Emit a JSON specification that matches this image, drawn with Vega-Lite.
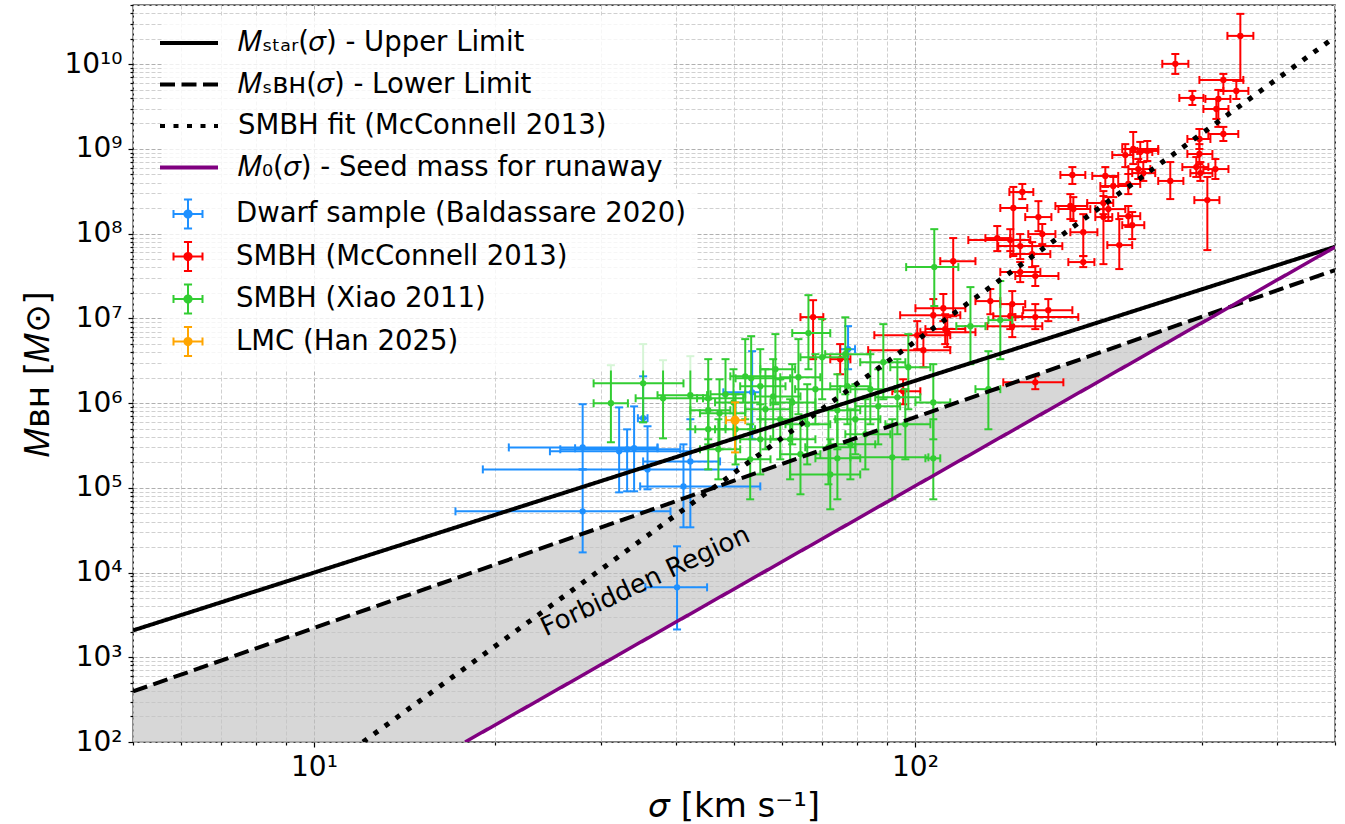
{
"$schema":"https://vega.github.io/schema/vega-lite/v6.json",
"width":1202,"height":737,
"autosize":{"type":"none"},
"padding":{"left":133,"top":5,"right":10,"bottom":82},
"background":"white",
"config":{"font":"DejaVu Sans","view":{"stroke":"black","strokeWidth":1.3}},
"datasets":{
"lines":[
{"series":"𝑀ₛₜₐᵣ(𝜎) - Upper Limit","s":5,"m":2075},
{"series":"𝑀ₛₜₐᵣ(𝜎) - Upper Limit","s":500,"m":7.0e7},
{"series":"𝑀ₛʙʜ(𝜎) - Lower Limit","s":5,"m":395},
{"series":"𝑀ₛʙʜ(𝜎) - Lower Limit","s":500,"m":3.72e7},
{"series":"SMBH fit (McConnell 2013)","s":12.07,"m":100},
{"series":"SMBH fit (McConnell 2013)","s":500,"m":2.1e10},
{"series":"𝑀₀(𝜎) - Seed mass for runaway","s":17.85,"m":100},
{"series":"𝑀₀(𝜎) - Seed mass for runaway","s":500,"m":6.95e7}
],
"region":[
{"s":5,"lo":100,"hi":395},
{"s":17.85,"lo":100,"hi":9354},
{"s":334.4,"lo":1.37e7,"hi":1.37e7}
],
"obs":[
{"series":"Dwarf sample (Baldassare 2020)","s":28.0,"sl":21.1,"sh":37.3,"m":3.0e5,"ml":1.65e5,"mh":9.7e5},
{"series":"Dwarf sample (Baldassare 2020)","s":28.0,"sl":17.2,"sh":39.2,"m":5.28e4,"ml":1.73e4,"mh":1.65e5},
{"series":"Dwarf sample (Baldassare 2020)","s":32.2,"sl":24.7,"sh":42.3,"m":2.70e5,"ml":8.84e4,"mh":8.9e5},
{"series":"Dwarf sample (Baldassare 2020)","s":33.2,"sl":25.7,"sh":40.7,"m":2.85e5,"ml":9.1e4,"mh":4.9e5},
{"series":"Dwarf sample (Baldassare 2020)","s":34.1,"sl":27.2,"sh":37.3,"m":2.93e5,"ml":9.1e4,"mh":9.15e5},
{"series":"Dwarf sample (Baldassare 2020)","s":35.3,"sl":34.6,"sh":35.9,"m":6.63e5,"ml":5.95e5,"mh":2.07e6},
{"series":"Dwarf sample (Baldassare 2020)","s":35.9,"sl":19.1,"sh":50.6,"m":1.65e5,"ml":9.6e4,"mh":5.33e5},
{"series":"Dwarf sample (Baldassare 2020)","s":42.3,"sl":35.3,"sh":47.4,"m":2.05e5,"ml":3.42e4,"mh":6.45e5},
{"series":"Dwarf sample (Baldassare 2020)","s":41.2,"sl":34.9,"sh":55.3,"m":1.04e5,"ml":3.42e4,"mh":3.26e5},
{"series":"Dwarf sample (Baldassare 2020)","s":40.2,"sl":35.6,"sh":45.1,"m":6.69e3,"ml":2.13e3,"mh":2.04e4},
{"series":"Dwarf sample (Baldassare 2020)","s":53.6,"sl":48.0,"sh":55.3,"m":1.34e6,"ml":3.74e5,"mh":4.1e6},
{"series":"Dwarf sample (Baldassare 2020)","s":77.4,"sl":75.1,"sh":79.5,"m":4.33e6,"ml":2.51e6,"mh":8.1e6},
{"series":"SMBH (McConnell 2013)","s":67.7,"sl":64.5,"sh":70.4,"m":1.035e7,"ml":3.30e6,"mh":1.64e7},
{"series":"SMBH (McConnell 2013)","s":75.1,"sl":72.3,"sh":78.1,"m":3.30e6,"ml":2.19e6,"mh":4.97e6},
{"series":"SMBH (McConnell 2013)","s":95.6,"sl":91.7,"sh":102.1,"m":1.38e6,"ml":9.69e5,"mh":1.91e6},
{"series":"SMBH (McConnell 2013)","s":103.3,"sl":83.6,"sh":114.5,"m":4.22e6,"ml":2.65e6,"mh":6.52e6},
{"series":"SMBH (McConnell 2013)","s":100.9,"sl":85.6,"sh":114.5,"m":6.34e6,"ml":4.33e6,"mh":9.28e6},
{"series":"SMBH (McConnell 2013)","s":107.3,"sl":94.5,"sh":119.0,"m":1.09e7,"ml":7.47e6,"mh":1.69e7},
{"series":"SMBH (McConnell 2013)","s":111.5,"sl":100.2,"sh":121.3,"m":1.32e7,"ml":9.28e6,"mh":1.94e7},
{"series":"SMBH (McConnell 2013)","s":113.2,"sl":102.1,"sh":126.1,"m":6.88e6,"ml":4.58e6,"mh":1.035e7},
{"series":"SMBH (McConnell 2013)","s":115.8,"sl":110.2,"sh":126.1,"m":4.74e7,"ml":1.06e7,"mh":8.87e7},
{"series":"SMBH (McConnell 2013)","s":112.3,"sl":104.1,"sh":121.3,"m":7.47e6,"ml":4.97e6,"mh":1.12e7},
{"series":"SMBH (McConnell 2013)","s":133.5,"sl":126.1,"sh":138.7,"m":1.60e7,"ml":1.12e7,"mh":2.22e7},
{"series":"SMBH (McConnell 2013)","s":145.2,"sl":138.7,"sh":152.6,"m":1.475e7,"ml":1.035e7,"mh":2.10e7},
{"series":"SMBH (McConnell 2013)","s":144.1,"sl":135.0,"sh":150.9,"m":1.06e7,"ml":7.47e6,"mh":1.475e7},
{"series":"SMBH (McConnell 2013)","s":158.6,"sl":146.9,"sh":187.0,"m":1.035e7,"ml":7.47e6,"mh":1.475e7},
{"series":"SMBH (McConnell 2013)","s":166.7,"sl":151.4,"sh":182.8,"m":1.25e7,"ml":9.28e6,"mh":1.69e7},
{"series":"SMBH (McConnell 2013)","s":145.2,"sl":132.0,"sh":162.9,"m":8.10e6,"ml":6.01e6,"mh":1.12e7},
{"series":"SMBH (McConnell 2013)","s":150.9,"sl":143.6,"sh":157.4,"m":3.10e8,"ml":2.56e8,"mh":3.86e8},
{"series":"SMBH (McConnell 2013)","s":145.8,"sl":138.7,"sh":153.8,"m":2.01e8,"ml":5.44e7,"mh":3.56e8},
{"series":"SMBH (McConnell 2013)","s":160.5,"sl":152.6,"sh":168.7,"m":1.57e8,"ml":1.07e8,"mh":2.42e8},
{"series":"SMBH (McConnell 2013)","s":137.1,"sl":131.0,"sh":144.1,"m":8.87e7,"ml":6.23e7,"mh":1.23e8},
{"series":"SMBH (McConnell 2013)","s":144.1,"sl":122.7,"sh":155.6,"m":8.40e7,"ml":6.23e7,"mh":1.13e8},
{"series":"SMBH (McConnell 2013)","s":149.7,"sl":137.6,"sh":175.9,"m":7.13e7,"ml":5.01e7,"mh":9.89e7},
{"series":"SMBH (McConnell 2013)","s":162.9,"sl":154.4,"sh":171.3,"m":9.89e7,"ml":7.53e7,"mh":1.30e8},
{"series":"SMBH (McConnell 2013)","s":156.7,"sl":144.1,"sh":168.0,"m":5.74e7,"ml":4.03e7,"mh":7.95e7},
{"series":"SMBH (McConnell 2013)","s":149.7,"sl":138.7,"sh":161.7,"m":3.52e7,"ml":2.68e7,"mh":4.62e7},
{"series":"SMBH (McConnell 2013)","s":158.6,"sl":146.9,"sh":173.3,"m":3.16e7,"ml":2.41e7,"mh":4.14e7},
{"series":"SMBH (McConnell 2013)","s":182.8,"sl":174.6,"sh":192.1,"m":4.93e8,"ml":3.86e8,"mh":6.11e8},
{"series":"SMBH (McConnell 2013)","s":181.4,"sl":171.3,"sh":193.5,"m":2.12e8,"ml":1.487e8,"mh":2.93e8},
{"series":"SMBH (McConnell 2013)","s":183.5,"sl":173.3,"sh":195.8,"m":1.95e8,"ml":1.41e8,"mh":2.70e8},
{"series":"SMBH (McConnell 2013)","s":190.6,"sl":181.4,"sh":201.2,"m":1.04e8,"ml":5.44e7,"mh":1.70e8},
{"series":"SMBH (McConnell 2013)","s":190.6,"sl":180.0,"sh":198.9,"m":4.62e7,"ml":4.03e7,"mh":5.44e7},
{"series":"SMBH (McConnell 2013)","s":207.4,"sl":197.3,"sh":217.9,"m":4.80e8,"ml":3.56e8,"mh":6.11e8},
{"series":"SMBH (McConnell 2013)","s":213.8,"sl":203.5,"sh":226.5,"m":3.65e8,"ml":2.70e8,"mh":4.67e8},
{"series":"SMBH (McConnell 2013)","s":205.9,"sl":193.5,"sh":213.8,"m":2.30e8,"ml":1.70e8,"mh":3.18e8},
{"series":"SMBH (McConnell 2013)","s":209.8,"sl":199.6,"sh":223.9,"m":1.95e8,"ml":1.41e8,"mh":2.70e8},
{"series":"SMBH (McConnell 2013)","s":205.9,"sl":199.6,"sh":213.0,"m":1.57e8,"ml":4.37e7,"mh":2.78e8},
{"series":"SMBH (McConnell 2013)","s":218.8,"sl":209.0,"sh":229.9,"m":7.33e7,"ml":3.82e7,"mh":1.487e8},
{"series":"SMBH (McConnell 2013)","s":226.5,"sl":217.9,"sh":237.1,"m":1.61e8,"ml":1.20e8,"mh":2.12e8},
{"series":"SMBH (McConnell 2013)","s":229.9,"sl":221.3,"sh":240.8,"m":1.26e8,"ml":8.63e7,"mh":1.80e8},
{"series":"SMBH (McConnell 2013)","s":223.9,"sl":213.0,"sh":230.8,"m":8.47e8,"ml":6.11e8,"mh":1.14e9},
{"series":"SMBH (McConnell 2013)","s":230.8,"sl":221.3,"sh":254.0,"m":9.98e8,"ml":6.63e8,"mh":1.585e9},
{"series":"SMBH (McConnell 2013)","s":237.1,"sl":228.2,"sh":248.3,"m":9.20e8,"ml":7.00e8,"mh":1.21e9},
{"series":"SMBH (McConnell 2013)","s":243.6,"sl":234.4,"sh":254.0,"m":9.47e8,"ml":7.20e8,"mh":1.24e9},
{"series":"SMBH (McConnell 2013)","s":226.5,"sl":217.9,"sh":237.1,"m":3.86e8,"ml":2.93e8,"mh":5.06e8},
{"series":"SMBH (McConnell 2013)","s":235.3,"sl":226.5,"sh":246.4,"m":5.79e8,"ml":4.42e8,"mh":7.60e8},
{"series":"SMBH (McConnell 2013)","s":266.0,"sl":254.0,"sh":279.7,"m":4.19e8,"ml":2.56e8,"mh":7.00e8},
{"series":"SMBH (McConnell 2013)","s":158.6,"sl":140.3,"sh":176.6,"m":1.76e6,"ml":1.46e6,"mh":2.07e6},
{"series":"SMBH (McConnell 2013)","s":347.9,"sl":331.1,"sh":365.7,"m":2.16e10,"ml":6.35e9,"mh":3.93e10},
{"series":"SMBH (McConnell 2013)","s":271.2,"sl":258.0,"sh":285.1,"m":1.01e10,"ml":7.68e9,"mh":1.32e10},
{"series":"SMBH (McConnell 2013)","s":326.0,"sl":297.4,"sh":351.9,"m":6.52e9,"ml":4.83e9,"mh":7.68e9},
{"series":"SMBH (McConnell 2013)","s":342.6,"sl":326.0,"sh":358.8,"m":4.84e9,"ml":3.89e9,"mh":6.35e9},
{"series":"SMBH (McConnell 2013)","s":289.5,"sl":275.4,"sh":302.0,"m":4.00e9,"ml":3.30e9,"mh":4.84e9},
{"series":"SMBH (McConnell 2013)","s":319.8,"sl":304.3,"sh":334.9,"m":3.89e9,"ml":1.82e9,"mh":4.97e9},
{"series":"SMBH (McConnell 2013)","s":317.4,"sl":302.0,"sh":332.4,"m":2.96e9,"ml":2.26e9,"mh":3.89e9},
{"series":"SMBH (McConnell 2013)","s":326.0,"sl":307.8,"sh":345.2,"m":1.50e9,"ml":1.24e9,"mh":1.82e9},
{"series":"SMBH (McConnell 2013)","s":297.4,"sl":284.0,"sh":310.2,"m":1.31e9,"ml":9.98e8,"mh":1.72e9},
{"series":"SMBH (McConnell 2013)","s":297.4,"sl":284.0,"sh":312.6,"m":8.71e8,"ml":6.63e8,"mh":1.14e9},
{"series":"SMBH (McConnell 2013)","s":293.9,"sl":278.6,"sh":307.8,"m":6.11e8,"ml":4.67e8,"mh":8.02e8},
{"series":"SMBH (McConnell 2013)","s":298.5,"sl":287.3,"sh":312.6,"m":5.19e8,"ml":4.19e8,"mh":7.00e8},
{"series":"SMBH (McConnell 2013)","s":316.2,"sl":302.0,"sh":332.4,"m":5.79e8,"ml":4.42e8,"mh":7.60e8},
{"series":"SMBH (McConnell 2013)","s":306.6,"sl":291.7,"sh":321.1,"m":2.49e8,"ml":6.40e7,"mh":4.67e8},
{"series":"SMBH (McConnell 2013)","s":239.9,"sl":229.9,"sh":251.1,"m":5.19e8,"ml":4.19e8,"mh":7.00e8},
{"series":"SMBH (Xiao 2011)","s":31.2,"sl":29.2,"sh":33.3,"m":9.96e5,"ml":3.45e5,"mh":2.80e6},
{"series":"SMBH (Xiao 2011)","s":35.3,"sl":29.2,"sh":41.2,"m":1.71e6,"ml":5.94e5,"mh":4.97e6},
{"series":"SMBH (Xiao 2011)","s":38.1,"sl":34.3,"sh":44.4,"m":1.14e6,"ml":3.84e5,"mh":3.21e6},
{"series":"SMBH (Xiao 2011)","s":42.3,"sl":37.3,"sh":45.1,"m":1.24e6,"ml":4.91e5,"mh":3.58e6},
{"series":"SMBH (Xiao 2011)","s":45.3,"sl":43.4,"sh":51.8,"m":1.14e6,"ml":3.74e5,"mh":3.30e6},
{"series":"SMBH (Xiao 2011)","s":45.3,"sl":42.3,"sh":49.3,"m":8.23e5,"ml":3.26e5,"mh":1.91e6},
{"series":"SMBH (Xiao 2011)","s":45.3,"sl":43.1,"sh":48.4,"m":4.91e5,"ml":1.65e5,"mh":1.11e6},
{"series":"SMBH (Xiao 2011)","s":47.3,"sl":43.9,"sh":52.2,"m":7.59e5,"ml":2.85e5,"mh":1.91e6},
{"series":"SMBH (Xiao 2011)","s":49.9,"sl":46.5,"sh":55.3,"m":1.02e6,"ml":3.74e5,"mh":2.51e6},
{"series":"SMBH (Xiao 2011)","s":52.2,"sl":49.3,"sh":58.6,"m":2.07e6,"ml":6.45e5,"mh":5.69e6},
{"series":"SMBH (Xiao 2011)","s":53.4,"sl":50.3,"sh":62.0,"m":1.96e6,"ml":4.91e5,"mh":6.17e6},
{"series":"SMBH (Xiao 2011)","s":47.1,"sl":43.9,"sh":51.2,"m":2.85e5,"ml":1.26e5,"mh":6.45e5},
{"series":"SMBH (Xiao 2011)","s":53.2,"sl":50.3,"sh":57.5,"m":2.17e5,"ml":7.32e4,"mh":5.63e5},
{"series":"SMBH (Xiao 2011)","s":55.3,"sl":51.2,"sh":60.9,"m":1.58e6,"ml":6.45e5,"mh":4.33e6},
{"series":"SMBH (Xiao 2011)","s":58.1,"sl":54.2,"sh":64.5,"m":1.20e6,"ml":3.74e5,"mh":3.30e6},
{"series":"SMBH (Xiao 2011)","s":64.0,"sl":59.7,"sh":69.6,"m":2.02e6,"ml":7.39e5,"mh":5.69e6},
{"series":"SMBH (Xiao 2011)","s":70.1,"sl":64.5,"sh":76.6,"m":3.48e6,"ml":1.11e6,"mh":9.80e6},
{"series":"SMBH (Xiao 2011)","s":76.6,"sl":70.9,"sh":84.3,"m":3.78e6,"ml":1.27e6,"mh":1.03e7},
{"series":"SMBH (Xiao 2011)","s":77.2,"sl":72.3,"sh":84.3,"m":1.58e6,"ml":5.63e5,"mh":4.33e6},
{"series":"SMBH (Xiao 2011)","s":62.5,"sl":57.5,"sh":68.3,"m":1.02e6,"ml":3.26e5,"mh":2.88e6},
{"series":"SMBH (Xiao 2011)","s":66.2,"sl":60.9,"sh":72.3,"m":5.63e5,"ml":1.89e5,"mh":1.67e6},
{"series":"SMBH (Xiao 2011)","s":74.3,"sl":68.3,"sh":81.1,"m":8.23e5,"ml":2.85e5,"mh":2.19e6},
{"series":"SMBH (Xiao 2011)","s":71.8,"sl":65.7,"sh":79.6,"m":3.01e5,"ml":1.10e5,"mh":8.46e5},
{"series":"SMBH (Xiao 2011)","s":74.3,"sl":68.3,"sh":81.1,"m":2.23e5,"ml":7.32e4,"mh":6.45e5},
{"series":"SMBH (Xiao 2011)","s":72.3,"sl":62.0,"sh":81.1,"m":1.44e5,"ml":5.58e4,"mh":3.74e5},
{"series":"SMBH (Xiao 2011)","s":88.6,"sl":81.1,"sh":96.4,"m":3.04e6,"ml":1.11e6,"mh":8.55e6},
{"series":"SMBH (Xiao 2011)","s":97.5,"sl":91.0,"sh":106.1,"m":2.65e6,"ml":8.46e5,"mh":6.52e6},
{"series":"SMBH (Xiao 2011)","s":93.5,"sl":85.9,"sh":102.1,"m":1.17e6,"ml":4.29e5,"mh":3.30e6},
{"series":"SMBH (Xiao 2011)","s":86.9,"sl":79.6,"sh":94.5,"m":9.18e5,"ml":3.26e5,"mh":2.51e6},
{"series":"SMBH (Xiao 2011)","s":107.3,"sl":100.2,"sh":114.5,"m":1.02e6,"ml":3.74e5,"mh":2.88e6},
{"series":"SMBH (Xiao 2011)","s":91.7,"sl":78.1,"sh":105.3,"m":2.29e5,"ml":7.32e4,"mh":6.45e5},
{"series":"SMBH (Xiao 2011)","s":107.3,"sl":104.1,"sh":110.2,"m":2.23e5,"ml":7.32e4,"mh":6.45e5},
{"series":"SMBH (Xiao 2011)","s":66.5,"sl":62.5,"sh":72.3,"m":6.70e6,"ml":2.51e6,"mh":1.88e7},
{"series":"SMBH (Xiao 2011)","s":107.7,"sl":96.7,"sh":118.1,"m":4.03e7,"ml":1.40e7,"mh":1.13e8},
{"series":"SMBH (Xiao 2011)","s":123.7,"sl":117.2,"sh":131.0,"m":8.10e6,"ml":2.88e6,"mh":2.34e7},
{"series":"SMBH (Xiao 2011)","s":138.7,"sl":132.5,"sh":145.2,"m":9.54e6,"ml":3.30e6,"mh":2.76e7},
{"series":"SMBH (Xiao 2011)","s":132.5,"sl":126.1,"sh":138.7,"m":1.46e6,"ml":4.91e5,"mh":4.10e6},
{"series":"SMBH (Xiao 2011)","s":56.4,"sl":52.2,"sh":62.0,"m":8.46e5,"ml":2.85e5,"mh":2.51e6},
{"series":"SMBH (Xiao 2011)","s":59.7,"sl":55.3,"sh":65.7,"m":6.45e5,"ml":2.17e5,"mh":1.91e6},
{"series":"SMBH (Xiao 2011)","s":62.0,"sl":57.5,"sh":68.3,"m":3.74e5,"ml":1.26e5,"mh":1.11e6},
{"series":"SMBH (Xiao 2011)","s":68.3,"sl":63.2,"sh":75.1,"m":1.46e6,"ml":5.63e5,"mh":3.78e6},
{"series":"SMBH (Xiao 2011)","s":79.6,"sl":73.7,"sh":87.6,"m":6.45e5,"ml":2.49e5,"mh":1.67e6},
{"series":"SMBH (Xiao 2011)","s":82.7,"sl":76.6,"sh":91.0,"m":4.29e5,"ml":1.65e5,"mh":1.11e6},
{"series":"SMBH (Xiao 2011)","s":84.3,"sl":78.1,"sh":92.7,"m":1.46e6,"ml":5.63e5,"mh":3.78e6},
{"series":"SMBH (Xiao 2011)","s":64.5,"sl":59.7,"sh":69.6,"m":2.49e5,"ml":8.39e4,"mh":6.45e5},
{"series":"SMBH (Xiao 2011)","s":55.3,"sl":51.2,"sh":59.7,"m":3.74e5,"ml":1.44e5,"mh":9.69e5},
{"series":"SMBH (Xiao 2011)","s":58.6,"sl":55.3,"sh":63.2,"m":2.51e6,"ml":9.69e5,"mh":6.52e6},
{"series":"SMBH (Xiao 2011)","s":78.1,"sl":72.3,"sh":85.9,"m":3.26e5,"ml":1.26e5,"mh":8.46e5},
{"series":"SMBH (Xiao 2011)","s":96.4,"sl":89.3,"sh":106.1,"m":5.63e5,"ml":2.17e5,"mh":1.46e6},
{"series":"SMBH (Xiao 2011)","s":50.3,"sl":46.5,"sh":54.2,"m":4.91e5,"ml":1.89e5,"mh":1.27e6},
{"series":"SMBH (Xiao 2011)","s":48.4,"sl":45.7,"sh":52.2,"m":1.27e6,"ml":4.91e5,"mh":3.30e6},
{"series":"LMC (Han 2025)","s":50.2,"sl":48.5,"sh":52.2,"m":6.28e5,"ml":2.62e5,"mh":1.02e6}
]
},
"layer":[
{"data":{"name":"region"},
 "mark":{"type":"area","color":"#c2c2c2","opacity":0.65,"clip":true},
 "encoding":{
  "x":{"field":"s","type":"quantitative","scale":{"type":"log","domain":[5,500],"nice":false},
   "axis":{"values":[5,6,7,8,9,10,20,30,40,50,60,70,80,90,100,200,300,400,500],
    "labelExpr":"abs(log(datum.value)/LN10 - round(log(datum.value)/LN10)) < 0.001 ? '10' + (round(log(datum.value)/LN10) == 1 ? '¹' : '²') : ''",
    "title":"𝜎 [km s⁻¹]","grid":true,
    "gridColor":{"condition":{"test":"abs(log(datum.value)/LN10 - round(log(datum.value)/LN10)) < 0.001","value":"#b0b0b0"},"value":"#d0d0d0"},
    "gridDash":[4,2],"gridWidth":1,"domain":false,"ticks":true,"tickColor":"black","tickWidth":1.2,
    "tickSize":{"condition":{"test":"abs(log(datum.value)/LN10 - round(log(datum.value)/LN10)) < 0.001","value":5},"value":3},
    "labelFont":"DejaVu Sans","labelFontSize":28,"labelColor":"black","labelPadding":6,"labelOverlap":false,"labelFlush":false,"labelBound":false,
    "titleFont":"DejaVu Sans","titleFontSize":34,"titleFontWeight":"normal","titleColor":"black","titlePadding":8}},
  "y":{"field":"lo","type":"quantitative","scale":{"type":"log","domain":[100,5e10],"nice":false},
   "axis":{"values":[1e2,2e2,3e2,4e2,5e2,6e2,7e2,8e2,9e2,1e3,2e3,3e3,4e3,5e3,6e3,7e3,8e3,9e3,1e4,2e4,3e4,4e4,5e4,6e4,7e4,8e4,9e4,1e5,2e5,3e5,4e5,5e5,6e5,7e5,8e5,9e5,1e6,2e6,3e6,4e6,5e6,6e6,7e6,8e6,9e6,1e7,2e7,3e7,4e7,5e7,6e7,7e7,8e7,9e7,1e8,2e8,3e8,4e8,5e8,6e8,7e8,8e8,9e8,1e9,2e9,3e9,4e9,5e9,6e9,7e9,8e9,9e9,1e10,2e10,3e10,4e10,5e10],
    "labelExpr":"abs(log(datum.value)/LN10 - round(log(datum.value)/LN10)) < 0.001 ? '10' + ['⁰','¹','²','³','⁴','⁵','⁶','⁷','⁸','⁹','¹⁰'][round(log(datum.value)/LN10)] : ''",
    "title":"𝑀ʙʜ [𝑀⊙]","grid":true,
    "gridColor":{"condition":{"test":"abs(log(datum.value)/LN10 - round(log(datum.value)/LN10)) < 0.001","value":"#b0b0b0"},"value":"#d0d0d0"},
    "gridDash":[4,2],"gridWidth":1,"domain":false,"ticks":true,"tickColor":"black","tickWidth":1.2,
    "tickSize":{"condition":{"test":"abs(log(datum.value)/LN10 - round(log(datum.value)/LN10)) < 0.001","value":5},"value":3},
    "labelFont":"DejaVu Sans","labelFontSize":28,"labelColor":"black","labelPadding":6,"labelOverlap":false,"labelFlush":false,"labelBound":false,
    "titleFont":"DejaVu Sans","titleFontSize":34,"titleFontWeight":"normal","titleColor":"black","titlePadding":8}},
  "y2":{"field":"hi"}}},
{"data":{"name":"obs"},"transform":[{"filter":"datum.series === 'Dwarf sample (Baldassare 2020)'"}],
 "layer":[
  {"mark":{"type":"rule","strokeWidth":2,"clip":true},"encoding":{"x":{"field":"sl","type":"quantitative","scale":{"type":"log","domain":[5,500],"nice":false}},"x2":{"field":"sh"},"y":{"field":"m","type":"quantitative","scale":{"type":"log","domain":[100,5e10],"nice":false}},"stroke":{"field":"series","type":"nominal","scale":{"domain":["Dwarf sample (Baldassare 2020)","SMBH (McConnell 2013)","SMBH (Xiao 2011)","LMC (Han 2025)"],"range":["#1e90ff","#ff0000","#32cd32","#ffa500"]},"legend":{"orient":"none","legendX":29.5,"legendY":183.5,"direction":"vertical","title":null,"symbolType":"M-1,0H1M0,-1V1M-1,-0.28V0.28M1,-0.28V0.28M-0.28,-1H0.28M-0.28,1H0.28M-0.25,0A0.25,0.25,0,1,1,0.25,0A0.25,0.25,0,1,1,-0.25,0Z","symbolSize":841,"symbolStrokeWidth":2,"labelFont":"DejaVu Sans","labelFontSize":27.5,"labelColor":"black","labelLimit":700,"labelOffset":32.5,"rowPadding":5.5,"padding":10,"fillColor":"rgba(255,255,255,0.8)","cornerRadius":4,"encode":{"symbols":{"update":{"stroke":{"scale":"stroke","field":"value"},"fill":{"scale":"stroke","field":"value"},"strokeWidth":{"value":2},"opacity":{"value":1},"size":{"value":841},"shape":{"value":"M-1,0H1M0,-1V1M-1,-0.28V0.28M1,-0.28V0.28M-0.28,-1H0.28M-0.28,1H0.28M-0.25,0A0.25,0.25,0,1,1,0.25,0A0.25,0.25,0,1,1,-0.25,0Z"}}}}}}}},
  {"mark":{"type":"rule","strokeWidth":2,"clip":true},"encoding":{"x":{"field":"s","type":"quantitative","scale":{"type":"log","domain":[5,500],"nice":false}},"y":{"field":"ml","type":"quantitative","scale":{"type":"log","domain":[100,5e10],"nice":false}},"y2":{"field":"mh"},"stroke":{"field":"series","type":"nominal","scale":{"domain":["Dwarf sample (Baldassare 2020)","SMBH (McConnell 2013)","SMBH (Xiao 2011)","LMC (Han 2025)"],"range":["#1e90ff","#ff0000","#32cd32","#ffa500"]}}}},
  {"transform":[{"fold":["sl","sh"],"as":["k","cx"]}],"mark":{"type":"point","shape":"stroke","angle":90,"size":64,"strokeWidth":2,"filled":false,"opacity":1,"clip":true},"encoding":{"x":{"field":"cx","type":"quantitative","scale":{"type":"log","domain":[5,500],"nice":false}},"y":{"field":"m","type":"quantitative","scale":{"type":"log","domain":[100,5e10],"nice":false}},"stroke":{"field":"series","type":"nominal","scale":{"domain":["Dwarf sample (Baldassare 2020)","SMBH (McConnell 2013)","SMBH (Xiao 2011)","LMC (Han 2025)"],"range":["#1e90ff","#ff0000","#32cd32","#ffa500"]}}}},
  {"transform":[{"fold":["ml","mh"],"as":["k","cy"]}],"mark":{"type":"point","shape":"stroke","size":64,"strokeWidth":2,"filled":false,"opacity":1,"clip":true},"encoding":{"x":{"field":"s","type":"quantitative","scale":{"type":"log","domain":[5,500],"nice":false}},"y":{"field":"cy","type":"quantitative","scale":{"type":"log","domain":[100,5e10],"nice":false}},"stroke":{"field":"series","type":"nominal","scale":{"domain":["Dwarf sample (Baldassare 2020)","SMBH (McConnell 2013)","SMBH (Xiao 2011)","LMC (Han 2025)"],"range":["#1e90ff","#ff0000","#32cd32","#ffa500"]}}}},
  {"mark":{"type":"circle","size":40,"opacity":1,"clip":true},"encoding":{"x":{"field":"s","type":"quantitative","scale":{"type":"log","domain":[5,500],"nice":false}},"y":{"field":"m","type":"quantitative","scale":{"type":"log","domain":[100,5e10],"nice":false}},"color":{"value":"#1e90ff"}}}
 ]},
{"data":{"name":"obs"},"transform":[{"filter":"datum.series === 'SMBH (McConnell 2013)'"}],
 "layer":[
  {"mark":{"type":"rule","strokeWidth":2,"clip":true},"encoding":{"x":{"field":"sl","type":"quantitative","scale":{"type":"log","domain":[5,500],"nice":false}},"x2":{"field":"sh"},"y":{"field":"m","type":"quantitative","scale":{"type":"log","domain":[100,5e10],"nice":false}},"stroke":{"field":"series","type":"nominal","scale":{"domain":["Dwarf sample (Baldassare 2020)","SMBH (McConnell 2013)","SMBH (Xiao 2011)","LMC (Han 2025)"],"range":["#1e90ff","#ff0000","#32cd32","#ffa500"]}}}},
  {"mark":{"type":"rule","strokeWidth":2,"clip":true},"encoding":{"x":{"field":"s","type":"quantitative","scale":{"type":"log","domain":[5,500],"nice":false}},"y":{"field":"ml","type":"quantitative","scale":{"type":"log","domain":[100,5e10],"nice":false}},"y2":{"field":"mh"},"stroke":{"field":"series","type":"nominal","scale":{"domain":["Dwarf sample (Baldassare 2020)","SMBH (McConnell 2013)","SMBH (Xiao 2011)","LMC (Han 2025)"],"range":["#1e90ff","#ff0000","#32cd32","#ffa500"]}}}},
  {"transform":[{"fold":["sl","sh"],"as":["k","cx"]}],"mark":{"type":"point","shape":"stroke","angle":90,"size":64,"strokeWidth":2,"filled":false,"opacity":1,"clip":true},"encoding":{"x":{"field":"cx","type":"quantitative","scale":{"type":"log","domain":[5,500],"nice":false}},"y":{"field":"m","type":"quantitative","scale":{"type":"log","domain":[100,5e10],"nice":false}},"stroke":{"field":"series","type":"nominal","scale":{"domain":["Dwarf sample (Baldassare 2020)","SMBH (McConnell 2013)","SMBH (Xiao 2011)","LMC (Han 2025)"],"range":["#1e90ff","#ff0000","#32cd32","#ffa500"]}}}},
  {"transform":[{"fold":["ml","mh"],"as":["k","cy"]}],"mark":{"type":"point","shape":"stroke","size":64,"strokeWidth":2,"filled":false,"opacity":1,"clip":true},"encoding":{"x":{"field":"s","type":"quantitative","scale":{"type":"log","domain":[5,500],"nice":false}},"y":{"field":"cy","type":"quantitative","scale":{"type":"log","domain":[100,5e10],"nice":false}},"stroke":{"field":"series","type":"nominal","scale":{"domain":["Dwarf sample (Baldassare 2020)","SMBH (McConnell 2013)","SMBH (Xiao 2011)","LMC (Han 2025)"],"range":["#1e90ff","#ff0000","#32cd32","#ffa500"]}}}},
  {"mark":{"type":"circle","size":40,"opacity":1,"clip":true},"encoding":{"x":{"field":"s","type":"quantitative","scale":{"type":"log","domain":[5,500],"nice":false}},"y":{"field":"m","type":"quantitative","scale":{"type":"log","domain":[100,5e10],"nice":false}},"color":{"value":"#ff0000"}}}
 ]},
{"data":{"name":"obs"},"transform":[{"filter":"datum.series === 'SMBH (Xiao 2011)'"}],
 "layer":[
  {"mark":{"type":"rule","strokeWidth":2,"clip":true},"encoding":{"x":{"field":"sl","type":"quantitative","scale":{"type":"log","domain":[5,500],"nice":false}},"x2":{"field":"sh"},"y":{"field":"m","type":"quantitative","scale":{"type":"log","domain":[100,5e10],"nice":false}},"stroke":{"field":"series","type":"nominal","scale":{"domain":["Dwarf sample (Baldassare 2020)","SMBH (McConnell 2013)","SMBH (Xiao 2011)","LMC (Han 2025)"],"range":["#1e90ff","#ff0000","#32cd32","#ffa500"]}}}},
  {"mark":{"type":"rule","strokeWidth":2,"clip":true},"encoding":{"x":{"field":"s","type":"quantitative","scale":{"type":"log","domain":[5,500],"nice":false}},"y":{"field":"ml","type":"quantitative","scale":{"type":"log","domain":[100,5e10],"nice":false}},"y2":{"field":"mh"},"stroke":{"field":"series","type":"nominal","scale":{"domain":["Dwarf sample (Baldassare 2020)","SMBH (McConnell 2013)","SMBH (Xiao 2011)","LMC (Han 2025)"],"range":["#1e90ff","#ff0000","#32cd32","#ffa500"]}}}},
  {"transform":[{"fold":["sl","sh"],"as":["k","cx"]}],"mark":{"type":"point","shape":"stroke","angle":90,"size":64,"strokeWidth":2,"filled":false,"opacity":1,"clip":true},"encoding":{"x":{"field":"cx","type":"quantitative","scale":{"type":"log","domain":[5,500],"nice":false}},"y":{"field":"m","type":"quantitative","scale":{"type":"log","domain":[100,5e10],"nice":false}},"stroke":{"field":"series","type":"nominal","scale":{"domain":["Dwarf sample (Baldassare 2020)","SMBH (McConnell 2013)","SMBH (Xiao 2011)","LMC (Han 2025)"],"range":["#1e90ff","#ff0000","#32cd32","#ffa500"]}}}},
  {"transform":[{"fold":["ml","mh"],"as":["k","cy"]}],"mark":{"type":"point","shape":"stroke","size":64,"strokeWidth":2,"filled":false,"opacity":1,"clip":true},"encoding":{"x":{"field":"s","type":"quantitative","scale":{"type":"log","domain":[5,500],"nice":false}},"y":{"field":"cy","type":"quantitative","scale":{"type":"log","domain":[100,5e10],"nice":false}},"stroke":{"field":"series","type":"nominal","scale":{"domain":["Dwarf sample (Baldassare 2020)","SMBH (McConnell 2013)","SMBH (Xiao 2011)","LMC (Han 2025)"],"range":["#1e90ff","#ff0000","#32cd32","#ffa500"]}}}},
  {"mark":{"type":"circle","size":40,"opacity":1,"clip":true},"encoding":{"x":{"field":"s","type":"quantitative","scale":{"type":"log","domain":[5,500],"nice":false}},"y":{"field":"m","type":"quantitative","scale":{"type":"log","domain":[100,5e10],"nice":false}},"color":{"value":"#32cd32"}}}
 ]},
{"data":{"name":"obs"},"transform":[{"filter":"datum.series === 'LMC (Han 2025)'"}],
 "layer":[
  {"mark":{"type":"rule","strokeWidth":2,"clip":true},"encoding":{"x":{"field":"sl","type":"quantitative","scale":{"type":"log","domain":[5,500],"nice":false}},"x2":{"field":"sh"},"y":{"field":"m","type":"quantitative","scale":{"type":"log","domain":[100,5e10],"nice":false}},"stroke":{"field":"series","type":"nominal","scale":{"domain":["Dwarf sample (Baldassare 2020)","SMBH (McConnell 2013)","SMBH (Xiao 2011)","LMC (Han 2025)"],"range":["#1e90ff","#ff0000","#32cd32","#ffa500"]}}}},
  {"mark":{"type":"rule","strokeWidth":2,"clip":true},"encoding":{"x":{"field":"s","type":"quantitative","scale":{"type":"log","domain":[5,500],"nice":false}},"y":{"field":"ml","type":"quantitative","scale":{"type":"log","domain":[100,5e10],"nice":false}},"y2":{"field":"mh"},"stroke":{"field":"series","type":"nominal","scale":{"domain":["Dwarf sample (Baldassare 2020)","SMBH (McConnell 2013)","SMBH (Xiao 2011)","LMC (Han 2025)"],"range":["#1e90ff","#ff0000","#32cd32","#ffa500"]}}}},
  {"transform":[{"fold":["sl","sh"],"as":["k","cx"]}],"mark":{"type":"point","shape":"stroke","angle":90,"size":64,"strokeWidth":2,"filled":false,"opacity":1,"clip":true},"encoding":{"x":{"field":"cx","type":"quantitative","scale":{"type":"log","domain":[5,500],"nice":false}},"y":{"field":"m","type":"quantitative","scale":{"type":"log","domain":[100,5e10],"nice":false}},"stroke":{"field":"series","type":"nominal","scale":{"domain":["Dwarf sample (Baldassare 2020)","SMBH (McConnell 2013)","SMBH (Xiao 2011)","LMC (Han 2025)"],"range":["#1e90ff","#ff0000","#32cd32","#ffa500"]}}}},
  {"transform":[{"fold":["ml","mh"],"as":["k","cy"]}],"mark":{"type":"point","shape":"stroke","size":64,"strokeWidth":2,"filled":false,"opacity":1,"clip":true},"encoding":{"x":{"field":"s","type":"quantitative","scale":{"type":"log","domain":[5,500],"nice":false}},"y":{"field":"cy","type":"quantitative","scale":{"type":"log","domain":[100,5e10],"nice":false}},"stroke":{"field":"series","type":"nominal","scale":{"domain":["Dwarf sample (Baldassare 2020)","SMBH (McConnell 2013)","SMBH (Xiao 2011)","LMC (Han 2025)"],"range":["#1e90ff","#ff0000","#32cd32","#ffa500"]}}}},
  {"mark":{"type":"circle","size":85,"opacity":1,"clip":true},"encoding":{"x":{"field":"s","type":"quantitative","scale":{"type":"log","domain":[5,500],"nice":false}},"y":{"field":"m","type":"quantitative","scale":{"type":"log","domain":[100,5e10],"nice":false}},"color":{"value":"#ffa500"}}}
 ]},
{"data":{"name":"lines"},"transform":[{"filter":"datum.series === '𝑀ₛₜₐᵣ(𝜎) - Upper Limit'"}],
 "mark":{"type":"line","strokeWidth":4,"clip":true},
 "encoding":{"x":{"field":"s","type":"quantitative","scale":{"type":"log","domain":[5,500],"nice":false}},"y":{"field":"m","type":"quantitative","scale":{"type":"log","domain":[100,5e10],"nice":false}},
  "color":{"field":"series","type":"nominal","scale":{"domain":["𝑀ₛₜₐᵣ(𝜎) - Upper Limit","𝑀ₛʙʜ(𝜎) - Lower Limit","SMBH fit (McConnell 2013)","𝑀₀(𝜎) - Seed mass for runaway"],"range":["black","black","black","#800080"]},
   "legend":{"orient":"none","legendX":29.5,"legendY":11.5,"direction":"vertical","title":null,"symbolType":"M-2,0H2","symbolSize":841,"symbolStrokeWidth":4,"labelFont":"DejaVu Sans","labelFontSize":27.5,"labelColor":"black","labelLimit":700,"labelOffset":32.5,"rowPadding":11.5,"padding":10,"fillColor":"rgba(255,255,255,0.8)","cornerRadius":4}},
  "strokeDash":{"field":"series","type":"nominal","scale":{"domain":["𝑀ₛₜₐᵣ(𝜎) - Upper Limit","𝑀ₛʙʜ(𝜎) - Lower Limit","SMBH fit (McConnell 2013)","𝑀₀(𝜎) - Seed mass for runaway"],"range":[[1,0],[15,6.5],[5,8.5],[1,0]]},
   "legend":{"orient":"none","legendX":29.5,"legendY":11.5,"direction":"vertical","title":null,"symbolType":"M-2,0H2","symbolSize":841,"symbolStrokeWidth":4,"labelFont":"DejaVu Sans","labelFontSize":27.5,"labelColor":"black","labelLimit":700,"labelOffset":32.5,"rowPadding":11.5,"padding":10,"fillColor":"rgba(255,255,255,0.8)","cornerRadius":4}}}},
{"data":{"name":"lines"},"transform":[{"filter":"datum.series === '𝑀ₛʙʜ(𝜎) - Lower Limit'"}],
 "mark":{"type":"line","strokeWidth":4,"clip":true},
 "encoding":{"x":{"field":"s","type":"quantitative","scale":{"type":"log","domain":[5,500],"nice":false}},"y":{"field":"m","type":"quantitative","scale":{"type":"log","domain":[100,5e10],"nice":false}},
  "color":{"field":"series","type":"nominal","scale":{"domain":["𝑀ₛₜₐᵣ(𝜎) - Upper Limit","𝑀ₛʙʜ(𝜎) - Lower Limit","SMBH fit (McConnell 2013)","𝑀₀(𝜎) - Seed mass for runaway"],"range":["black","black","black","#800080"]},
   "legend":{"orient":"none","legendX":29.5,"legendY":11.5,"direction":"vertical","title":null,"symbolType":"M-2,0H2","symbolSize":841,"symbolStrokeWidth":4,"labelFont":"DejaVu Sans","labelFontSize":27.5,"labelColor":"black","labelLimit":700,"labelOffset":32.5,"rowPadding":11.5,"padding":10,"fillColor":"rgba(255,255,255,0.8)","cornerRadius":4}},
  "strokeDash":{"field":"series","type":"nominal","scale":{"domain":["𝑀ₛₜₐᵣ(𝜎) - Upper Limit","𝑀ₛʙʜ(𝜎) - Lower Limit","SMBH fit (McConnell 2013)","𝑀₀(𝜎) - Seed mass for runaway"],"range":[[1,0],[15,6.5],[5,8.5],[1,0]]},
   "legend":{"orient":"none","legendX":29.5,"legendY":11.5,"direction":"vertical","title":null,"symbolType":"M-2,0H2","symbolSize":841,"symbolStrokeWidth":4,"labelFont":"DejaVu Sans","labelFontSize":27.5,"labelColor":"black","labelLimit":700,"labelOffset":32.5,"rowPadding":11.5,"padding":10,"fillColor":"rgba(255,255,255,0.8)","cornerRadius":4}}}},
{"data":{"name":"lines"},"transform":[{"filter":"datum.series === 'SMBH fit (McConnell 2013)'"}],
 "mark":{"type":"line","strokeWidth":5,"clip":true},
 "encoding":{"x":{"field":"s","type":"quantitative","scale":{"type":"log","domain":[5,500],"nice":false}},"y":{"field":"m","type":"quantitative","scale":{"type":"log","domain":[100,5e10],"nice":false}},
  "color":{"field":"series","type":"nominal","scale":{"domain":["𝑀ₛₜₐᵣ(𝜎) - Upper Limit","𝑀ₛʙʜ(𝜎) - Lower Limit","SMBH fit (McConnell 2013)","𝑀₀(𝜎) - Seed mass for runaway"],"range":["black","black","black","#800080"]},
   "legend":{"orient":"none","legendX":29.5,"legendY":11.5,"direction":"vertical","title":null,"symbolType":"M-2,0H2","symbolSize":841,"symbolStrokeWidth":4,"labelFont":"DejaVu Sans","labelFontSize":27.5,"labelColor":"black","labelLimit":700,"labelOffset":32.5,"rowPadding":11.5,"padding":10,"fillColor":"rgba(255,255,255,0.8)","cornerRadius":4}},
  "strokeDash":{"field":"series","type":"nominal","scale":{"domain":["𝑀ₛₜₐᵣ(𝜎) - Upper Limit","𝑀ₛʙʜ(𝜎) - Lower Limit","SMBH fit (McConnell 2013)","𝑀₀(𝜎) - Seed mass for runaway"],"range":[[1,0],[15,6.5],[5,8.5],[1,0]]},
   "legend":{"orient":"none","legendX":29.5,"legendY":11.5,"direction":"vertical","title":null,"symbolType":"M-2,0H2","symbolSize":841,"symbolStrokeWidth":4,"labelFont":"DejaVu Sans","labelFontSize":27.5,"labelColor":"black","labelLimit":700,"labelOffset":32.5,"rowPadding":11.5,"padding":10,"fillColor":"rgba(255,255,255,0.8)","cornerRadius":4}}}},
{"data":{"name":"lines"},"transform":[{"filter":"datum.series === '𝑀₀(𝜎) - Seed mass for runaway'"}],
 "mark":{"type":"line","strokeWidth":3.5,"clip":true},
 "encoding":{"x":{"field":"s","type":"quantitative","scale":{"type":"log","domain":[5,500],"nice":false}},"y":{"field":"m","type":"quantitative","scale":{"type":"log","domain":[100,5e10],"nice":false}},
  "color":{"field":"series","type":"nominal","scale":{"domain":["𝑀ₛₜₐᵣ(𝜎) - Upper Limit","𝑀ₛʙʜ(𝜎) - Lower Limit","SMBH fit (McConnell 2013)","𝑀₀(𝜎) - Seed mass for runaway"],"range":["black","black","black","#800080"]},
   "legend":{"orient":"none","legendX":29.5,"legendY":11.5,"direction":"vertical","title":null,"symbolType":"M-2,0H2","symbolSize":841,"symbolStrokeWidth":4,"labelFont":"DejaVu Sans","labelFontSize":27.5,"labelColor":"black","labelLimit":700,"labelOffset":32.5,"rowPadding":11.5,"padding":10,"fillColor":"rgba(255,255,255,0.8)","cornerRadius":4}},
  "strokeDash":{"field":"series","type":"nominal","scale":{"domain":["𝑀ₛₜₐᵣ(𝜎) - Upper Limit","𝑀ₛʙʜ(𝜎) - Lower Limit","SMBH fit (McConnell 2013)","𝑀₀(𝜎) - Seed mass for runaway"],"range":[[1,0],[15,6.5],[5,8.5],[1,0]]},
   "legend":{"orient":"none","legendX":29.5,"legendY":11.5,"direction":"vertical","title":null,"symbolType":"M-2,0H2","symbolSize":841,"symbolStrokeWidth":4,"labelFont":"DejaVu Sans","labelFontSize":27.5,"labelColor":"black","labelLimit":700,"labelOffset":32.5,"rowPadding":11.5,"padding":10,"fillColor":"rgba(255,255,255,0.8)","cornerRadius":4}}}},
{"data":{"values":[{"s":35.6,"m":7870,"label":"Forbidden Region"}]},
 "mark":{"type":"text","angle":-25,"fontSize":26,"font":"DejaVu Sans","color":"black","align":"center","baseline":"middle"},
 "encoding":{"x":{"field":"s","type":"quantitative","scale":{"type":"log","domain":[5,500],"nice":false}},"y":{"field":"m","type":"quantitative","scale":{"type":"log","domain":[100,5e10],"nice":false}},"text":{"field":"label"}}}
]
}
